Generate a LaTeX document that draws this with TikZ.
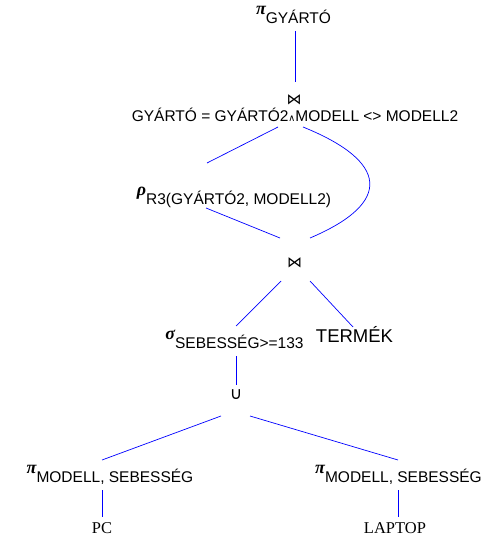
\documentclass[tikz,border=0pt]{standalone}
\usepackage{fontspec}
\setmainfont{Liberation Sans}
\newfontfamily\relfont{Liberation Serif}
\newfontfamily\greekfont{Liberation Serif}
\newfontfamily\symfont{DejaVu Sans}
\usepackage{tikz}

\newcommand{\opsub}[2]{{\greekfont\bfseries\itshape\fontsize{18}{21}\selectfont #1}\raisebox{-9pt}{#2}}

\begin{document}
\begin{tikzpicture}[x=1pt,y=-1pt,line/.style={blue,line width=0.7pt},
        every node/.style={inner sep=0pt,font=\fontsize{15.5}{18}\selectfont},
        joinsym/.style={font=\symfont\fontsize{15}{17}\selectfont},
        rel/.style={anchor=base,font=\relfont\fontsize{16.5}{19}\selectfont}]
        \useasboundingbox (0,0) rectangle (483,537);
        % tikz code goes here
        \node[anchor=base](proj) at (293.5,15) {\opsub{π}{GYÁRTÓ}};
        \node[joinsym](join1) at (294,100) {⋈};
        \node[anchor=base](cond) at (295,122) {GYÁRTÓ = GYÁRTÓ2{\symfont\fontsize{9.5}{11}\selectfont ∧}MODELL <> MODELL2};
        \node[anchor=base](rho) at (234,196) {\opsub{ρ}{R3(GYÁRTÓ2, MODELL2)}};
        \node[joinsym](join2) at (294.5,263) {⋈};
        \node[anchor=base](sigma) at (234.5,339) {\opsub{σ}{SEBESSÉG>=133}};
        \node[anchor=base,font=\fontsize{18.5}{21}\selectfont](termek) at (354.5,342) {TERMÉK};
        \node[font=\symfont\fontsize{17}{20}\selectfont](union) at (236,395) {∪};
        \node[anchor=base](projpc) at (110,473) {\opsub{π}{MODELL, SEBESSÉG}};
        \node[anchor=base](projlap) at (398.5,473) {\opsub{π}{MODELL, SEBESSÉG}};
        \node[rel](pc) at (102,533) {PC};
        \node[rel](laptop) at (395,533) {LAPTOP};
        % \draw[line] (proj) -- (join1);
        \path[line]([shift={(1.5,16)}]proj.base)	edge	([shift={(1,-18)}]join1.center)
        		([shift={(-17,5)}]cond.base)	edge	([shift={(-27,-33)}]rho.base)
        		([shift={(8,5)}]cond.base)	edge [out=-22,in=23,looseness=2.1]	([shift={(15.5,-25)}]join2.center)
        		([shift={(-28,12)}]rho.base)	edge	([shift={(-14.5,-25)}]join2.center)
        		([shift={(-13.5,18)}]join2.center)	edge	([shift={(1.5,-13)}]sigma.base)
        		([shift={(15.5,18)}]join2.center)	edge	([shift={(-1.5,-15)}]termek.base)
        		([shift={(1.5,17)}]sigma.base)	edge	([shift={(0,-10)}]union.center)
        		([shift={(-15,21)}]union.center)	edge	([shift={(-8,-13)}]projpc.base)
        		([shift={(14,21)}]union.center)	edge	([shift={(-0.5,-13)}]projlap.base)
        		([shift={(-8,17)}]projpc.base)	edge	([shift={(0,-16)}]pc.base)
        		([shift={(-0.5,17)}]projlap.base)	edge	([shift={(3,-16)}]laptop.base);
\end{tikzpicture}
\end{document}
